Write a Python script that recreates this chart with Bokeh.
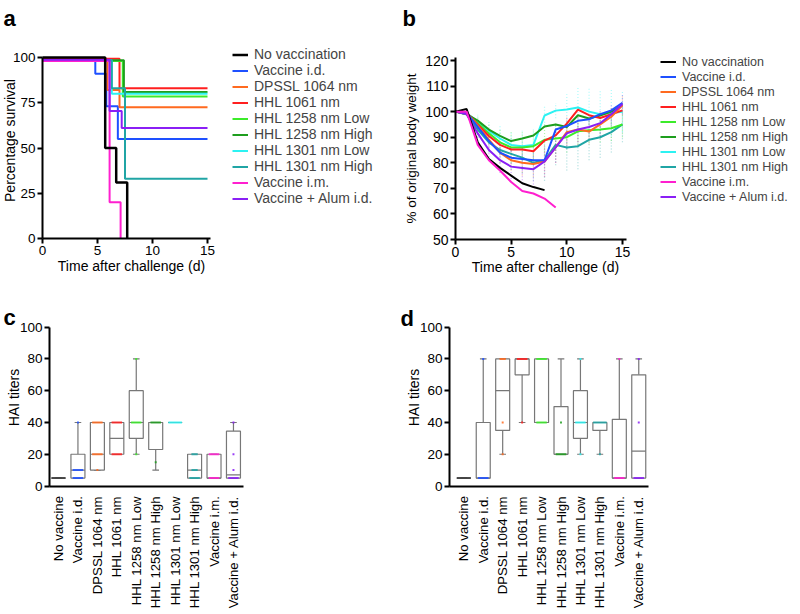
import math
from bokeh.plotting import figure
from bokeh.models import Range1d, Legend, LegendItem, Label, FixedTicker, LinearAxis
from bokeh.layouts import column, row
from bokeh.embed import file_html
from bokeh.resources import INLINE

FONT = "Liberation Sans"

# ---------------- shared groups ----------------
group_names = ["No vaccination", "Vaccine i.d.", "DPSSL 1064 nm", "HHL 1061 nm",
               "HHL 1258 nm Low", "HHL 1258 nm High", "HHL 1301 nm Low",
               "HHL 1301 nm High", "Vaccine i.m.", "Vaccine + Alum i.d."]
group_colors = ["#000000", "#1E50FF", "#FF6A1F", "#FF1F1F", "#3CEB2A",
                "#1E9E1E", "#2CF2F2", "#20A5A5", "#FF1FCF", "#8A1FF5"]

# ---------------- panel a: survival (Kaplan-Meier steps) ----------------
surv_t_none = [0, 5.7, 6.7, 7.7]
surv_s_none = [100, 50, 31, 0]
surv_t_id = [0, 4.8, 5.8, 6.85, 15]
surv_s_id = [99.5, 91, 73, 55, 55]
surv_t_dpssl = [0, 5.9, 7.0, 15]
surv_s_dpssl = [99, 82, 72.5, 72.5]
surv_t_1061 = [0, 7.0, 15]
surv_s_1061 = [99.3, 83, 83]
surv_t_1258l = [0, 7.3, 15]
surv_s_1258l = [98, 78.5, 78.5]
surv_t_1258h = [0, 7.4, 15]
surv_s_1258h = [98.5, 81, 81]
surv_t_1301l = [0, 6.3, 15]
surv_s_1301l = [98.2, 80, 80]
surv_t_1301h = [0, 6.3, 7.5, 15]
surv_s_1301h = [98.6, 83, 33, 33]
surv_t_im = [0, 6.1, 7.1]
surv_s_im = [98, 20, 0]
surv_t_alum = [0, 6.1, 7.2, 15]
surv_s_alum = [98.8, 70.5, 61, 61]

# ---------------- panel b: body weight ----------------
wt_days_none = [0, 1, 2, 3, 4, 5, 6, 7, 8]
wt_none = [100, 101, 88, 81.5, 78, 75, 72, 70.5, 69.3]
wt_days_im = [0, 1, 2, 3, 4, 5, 6, 7, 8, 9]
wt_im = [100, 100, 87, 81, 77, 72.5, 69, 68, 66, 62.5]
wt_days = [0, 1, 2, 3, 4, 5, 6, 7, 8, 9, 10, 11, 12, 13, 14, 15]
wt_id = [100, 99.5, 94, 88.5, 84, 82, 81.5, 81, 81, 93, 94.4, 96.4, 97, 99, 100.5, 103.5]
wt_dpssl = [100, 99.5, 94.5, 89, 84, 81, 80, 79.5, 80.5, 86, 92, 93, 92.2, 95, 98, 102.5]
wt_1061 = [100, 99.5, 95, 90.5, 87, 85.2, 85.2, 84.5, 88.7, 90.7, 95.3, 100.8, 98.6, 97.5, 99, 100.5]
wt_1258l = [100, 99, 95.5, 91.5, 88, 86, 86, 86.5, 89, 89.5, 90, 92.3, 92.7, 93, 93.5, 95]
wt_1258h = [100, 99, 96.5, 93, 90.5, 88.5, 89.5, 90.7, 94.2, 95, 94, 98.6, 97.3, 98.5, 100, 102.5]
wt_1301l = [100, 99.5, 96, 92.5, 89.5, 87, 86.5, 87, 98.5, 100.4, 100.8, 101.6, 100, 99, 99.5, 100]
wt_1301h = [100, 99, 93, 88, 85, 83.5, 82, 80, 81, 87, 86, 86.5, 89, 90, 92, 95]
wt_alum = [100, 99, 91.5, 85, 81, 78.5, 78, 77.5, 80.5, 86, 91.5, 93, 94, 95.5, 99, 103]
# standard deviations (faint dotted error bars)
sd_dpssl = [0, 1, 2, 3, 4, 4, 5, 5, 6, 6, 6, 6, 5, 5, 4, 4]
sd_1258l = [0, 1, 3, 4, 5, 6, 6, 6, 6, 6, 6, 6, 5, 5, 5, 5]
sd_1301l = [0, 1, 3, 4, 5, 5, 6, 6, 4, 3, 6, 8, 9, 9, 9, 8]
sd_1301h = [0, 1, 3, 4, 5, 6, 6, 7, 8, 8, 9, 9, 8, 8, 8, 7]
sd_alum = [0, 1, 3, 4, 5, 6, 6, 6, 6, 6, 6, 5, 5, 5, 4, 4]

# ---------------- panels c / d: HAI titers ----------------
box_names = ["No vaccine", "Vaccine i.d.", "DPSSL 1064 nm", "HHL 1061 nm",
             "HHL 1258 nm Low", "HHL 1258 nm High", "HHL 1301 nm Low",
             "HHL 1301 nm High", "Vaccine i.m.", "Vaccine + Alum i.d."]
c_lo = [5, 5, 10, 20, 20, 10, 40, 5, 5, 5]
c_q1 = [5, 5, 10, 20, 30, 23, 40, 5, 5, 5]
c_med = [5, 10, 20, 30, 40, 40, 40, 10, 5, 7]
c_q3 = [5, 20, 40, 40, 60, 40, 40, 20, 20, 34.5]
c_hi = [5, 40, 40, 40, 80, 40, 40, 20, 20, 40]
c_pt_group = [1, 1, 1, 2, 2, 2, 3, 3, 4, 4, 4, 5, 5, 6, 7, 7, 7, 8, 8, 9, 9, 9, 9]
c_pt_value = [5, 10, 40, 10, 20, 40, 20, 40, 20, 40, 80, 40, 15, 40, 5, 10, 20, 5, 20, 5, 10, 20, 40]
c_pt_count = [3, 3, 1, 1, 3, 3, 3, 3, 1, 3, 1, 3, 1, 4, 3, 2, 2, 3, 3, 3, 1, 1, 1]

d_lo = [5, 5, 20, 40, 40, 20, 20, 20, 5, 5]
d_q1 = [5, 5, 35, 70, 40, 20, 30, 35, 5, 5]
d_med = [5, 5, 60, 80, 40, 20, 40, 40, 5, 22]
d_q3 = [5, 40, 80, 80, 80, 50, 60, 40, 42, 70]
d_hi = [5, 80, 80, 80, 80, 80, 80, 40, 80, 80]
d_pt_group = [1, 1, 2, 2, 2, 3, 3, 4, 4, 5, 5, 6, 6, 6, 7, 7, 8, 8, 9, 9, 9]
d_pt_value = [5, 80, 80, 40, 20, 80, 40, 80, 40, 20, 40, 40, 20, 80, 40, 20, 5, 80, 5, 40, 80]
d_pt_count = [3, 1, 2, 1, 1, 3, 1, 3, 3, 3, 1, 3, 1, 1, 4, 1, 3, 1, 3, 1, 1]


def make_fig(W, H, px0, x0, sx, py0, y0, sy):
    """Frame covers the whole figure; (px0, py0) = pixel (from top-left) of data point (x0, y0)."""
    xr = Range1d(x0 - px0 / sx, x0 + (W - px0) / sx)
    yr = Range1d(y0 - (H - py0) / sy, y0 + py0 / sy)
    p = figure(width=W, height=H, x_range=xr, y_range=yr, x_axis_location=None, y_axis_location=None,
               output_backend="svg", toolbar_location=None, min_border=0)
    p.grid.visible = False
    p.outline_line_color = None
    return p


def style_axis(ax, tick_size="13.5px"):
    ax.axis_line_width = 2
    ax.axis_line_color = "#000000"
    ax.major_tick_line_width = 2
    ax.major_tick_line_color = "#000000"
    ax.major_tick_out = 5
    ax.major_tick_in = 0
    ax.minor_tick_line_color = None
    ax.major_label_text_font = FONT
    ax.major_label_text_font_size = tick_size
    ax.major_label_text_color = "#000000"
    ax.major_label_standoff = 2


def add_axes(p, xloc, xbounds, xticks, yloc, ybounds, yticks, tick_size="13.5px"):
    yax = LinearAxis(fixed_location=xloc, bounds=ybounds, ticker=FixedTicker(ticks=yticks))
    style_axis(yax, tick_size)
    p.add_layout(yax, "left")
    xax = LinearAxis(fixed_location=yloc, bounds=xbounds, ticker=FixedTicker(ticks=xticks))
    style_axis(xax, tick_size)
    p.add_layout(xax, "below")
    return xax, yax


def add_text(p, text, x, y, size, bold=False, angle=0.0, align="left", baseline="alphabetic"):
    p.add_layout(Label(x=x, y=y, x_units="screen", y_units="screen", text=text, angle=angle,
                       text_font=FONT, text_font_size=size,
                       text_font_style="bold" if bold else "normal",
                       text_align=align, text_baseline=baseline, text_color="#000000"))


def add_legend(p, renderers, x, y, size, row_h):
    items = [LegendItem(label=n, renderers=[r]) for n, r in zip(group_names, renderers)]
    leg = Legend(items=items, location=(x, y), glyph_width=16, glyph_height=row_h,
                 label_height=row_h, label_standoff=6, spacing=0, padding=0, margin=0,
                 border_line_color=None, background_fill_alpha=0,
                 label_text_font=FONT, label_text_font_size=size)
    p.add_layout(leg)


# ================= panel a =================
WA, HA = 400, 303
pa = make_fig(WA, HA, 42, 0, 11.0, 238, 0, 1.81)
add_axes(pa, 0, (0, 15.3), [0, 5, 10, 15], 0, (0, 100), [0, 25, 50, 75, 100])

surv_t = [surv_t_none, surv_t_id, surv_t_dpssl, surv_t_1061, surv_t_1258l,
          surv_t_1258h, surv_t_1301l, surv_t_1301h, surv_t_im, surv_t_alum]
surv_s = [surv_s_none, surv_s_id, surv_s_dpssl, surv_s_1061, surv_s_1258l,
          surv_s_1258h, surv_s_1301l, surv_s_1301h, surv_s_im, surv_s_alum]
ra = [None] * 10
for i in list(range(1, 10)) + [0]:
    ra[i] = pa.step(x=surv_t[i], y=surv_s[i], mode="after", line_color=group_colors[i],
                    line_width=2.5 if i == 0 else 2)
add_legend(pa, ra, 232, 97, "14px", 15)
add_text(pa, "Percentage survival", 9, HA - 140, "14px", angle=math.pi / 2, align="center", baseline="middle")
add_text(pa, "Time after challenge (d)", 131, HA - 265, "14px", align="center", baseline="middle")
add_text(pa, "a", 3, HA - 18, "22px", bold=True)

# ================= panel b =================
WB, HB = 398, 303
pb = make_fig(WB, HB, 55, 0, 11.13, 239, 50, 2.557)
add_axes(pb, 0, (0, 15.4), [0, 5, 10, 15], 50, (50, 121), [50, 60, 70, 80, 90, 100, 110, 120], "14px")

wt_x = [wt_days_none, wt_days, wt_days, wt_days, wt_days, wt_days, wt_days, wt_days, wt_days_im, wt_days]
wt_y = [wt_none, wt_id, wt_dpssl, wt_1061, wt_1258l, wt_1258h, wt_1301l, wt_1301h, wt_im, wt_alum]
err_sets = [(2, sd_dpssl), (4, sd_1258l), (6, sd_1301l), (7, sd_1301h), (9, sd_alum)]
for gi, sd in err_sets:
    ys = wt_y[gi]
    pb.segment(x0=wt_days[2:], y0=[v - s for v, s in zip(ys[2:], sd[2:])],
               x1=wt_days[2:], y1=[v + s for v, s in zip(ys[2:], sd[2:])],
               line_color=group_colors[gi], line_alpha=0.4, line_width=1.2, line_dash="1 2")
rb = [None] * 10
for i in [7, 6, 5, 4, 3, 2, 1, 9, 0, 8]:
    rb[i] = pb.line(x=wt_x[i], y=wt_y[i], line_color=group_colors[i], line_width=2)
add_legend(pb, rb, 260, 99, "12.5px", 15)
add_text(pb, "% of original body weight", 11, HB - 148, "13.5px", angle=math.pi / 2, align="center", baseline="middle")
add_text(pb, "Time after challenge (d)", 145, HB - 266, "14px", align="center", baseline="middle")
add_text(pb, "b", 2, HB - 18, "22px", bold=True)


# ================= panels c / d =================
def box_panel(W, lo, q1, med, q3, hi, pg, pv, pn, px_first, yaxis_at, letter, lx, ly):
    H = 309
    p = make_fig(W, H, px_first, 0, 19.44, 182.5, 0, 1.588)
    idx = list(range(len(box_names)))
    xax, yax = add_axes(p, yaxis_at, (yaxis_at, len(box_names) - 0.5), idx, 0, (0, 100),
                        [0, 20, 40, 60, 80, 100])
    xax.major_label_overrides = {i: n for i, n in zip(idx, box_names)}
    xax.major_label_orientation = math.pi / 2
    xax.major_tick_line_color = None
    xax.major_label_standoff = 5
    xax.major_label_text_font_size = "13.2px"
    grey = "#777777"
    # whiskers and caps
    p.segment(x0=idx, y0=q3, x1=idx, y1=hi, line_color=grey, line_width=1.2)
    p.segment(x0=idx, y0=lo, x1=idx, y1=q1, line_color=grey, line_width=1.2)
    p.segment(x0=[i - 0.17 for i in idx], y0=hi, x1=[i + 0.17 for i in idx], y1=hi, line_color=grey, line_width=1.2)
    p.segment(x0=[i - 0.17 for i in idx], y0=lo, x1=[i + 0.17 for i in idx], y1=lo, line_color=grey, line_width=1.2)
    # boxes and medians
    p.vbar(x=idx, bottom=q1, top=q3, width=0.72, fill_color="white", line_color=grey, line_width=1.2)
    p.segment(x0=[i - 0.36 for i in idx], y0=med, x1=[i + 0.36 for i in idx], y1=med,
              line_color=grey, line_width=1.2)
    p.segment(x0=[idx[0] - 0.36], y0=[med[0]], x1=[idx[0] + 0.36], y1=[med[0]],
              line_color="#333333", line_width=1.5)
    # individual animals
    p.rect(x=pg, y=pv, width=[min(0.7, 0.1 + 0.22 * (n - 1)) for n in pn],
           height=2, height_units="screen", fill_color=[group_colors[g] for g in pg],
           line_color=None, fill_alpha=0.85)
    add_text(p, "HAI titers", lx, H - 94, "14px", angle=math.pi / 2, align="center", baseline="middle")
    add_text(p, letter, 3 if letter == "c" else 0, H - ly, "22px", bold=True)
    return p


pc = box_panel(400, c_lo, c_q1, c_med, c_q3, c_hi, c_pt_group, c_pt_value, c_pt_count, 58, -0.46, "c", 13, 14)
pd = box_panel(398, d_lo, d_q1, d_med, d_q3, d_hi, d_pt_group, d_pt_value, d_pt_count, 63.3, -0.735, "d", 13, 15)

layout = column(row(pa, pb), row(pc, pd))
open("out.html", "w").write(file_html(layout, INLINE))
